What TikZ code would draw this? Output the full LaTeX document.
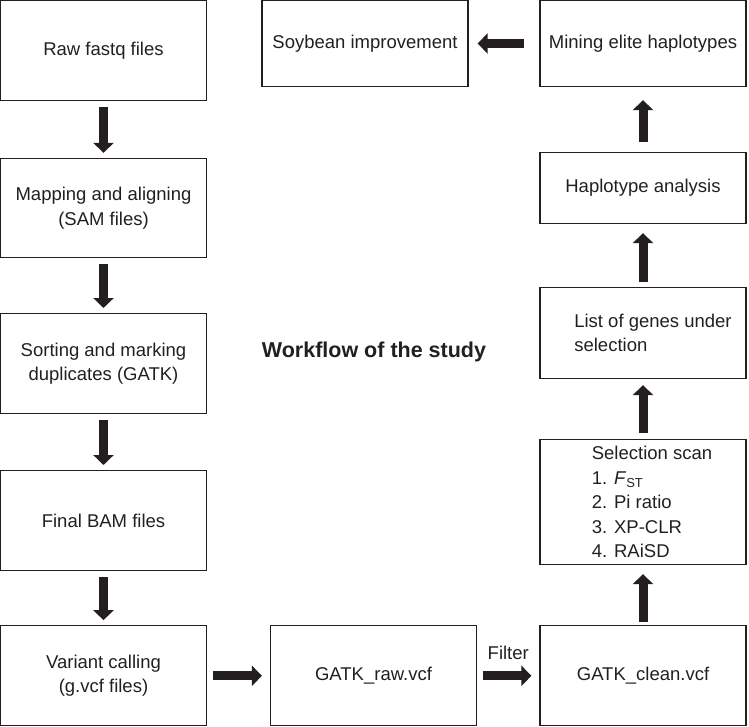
\documentclass[tikz,border=0pt]{standalone}
\usepackage{fontspec}
\setmainfont{Liberation Sans}
\usetikzlibrary{arrows.meta}
\definecolor{ink}{HTML}{231F20}
\tikzset{
	stage/.style={draw=ink, line width=1.3pt, text=ink, minimum width=206pt, inner sep=3pt, align=center, font=\fontsize{18.5}{24.5}\selectfont},
	flow/.style={ink, line width=9pt, -{Triangle[length=10pt, width=20pt]}, shorten <=6pt, shorten >=5pt}
}
\begin{document}
\begin{tikzpicture}[x=1pt, y=-1pt]
			\useasboundingbox (0,0) rectangle (749,727);

			% Left column
			\node[stage, minimum height=99.7pt] (raw) at (103.5,50.5) {Raw fastq files};
			\node[stage, minimum height=99pt] (map) at (103.5,208) {Mapping and aligning\\(SAM files)};
			\node[stage, minimum height=99.7pt] (sort) at (103.5,363.5) {Sorting and marking\\duplicates (GATK)};
			\node[stage, minimum height=99.7pt] (bam) at (103.5,520.5) {Final BAM files};
			\node[stage, minimum height=100pt] (call) at (103.5,675.8) {Variant calling\\(g.vcf files)};

			% Bottom row
			\node[stage, minimum height=100pt] (rawvcf) at (373.5,675.8) {GATK\_raw.vcf};
			\node[stage, minimum height=100pt] (cleanvcf) at (643,675.8) {GATK\_clean.vcf};

			% Right column (text set a little right of centre)
			\node[stage, minimum height=125pt, align=left] (scan) at (643,502) {\hspace*{18pt}Selection scan\\\hspace*{18pt}1. \textit{F}\textsubscript{ST}\\\hspace*{18pt}2. Pi ratio\\\hspace*{18pt}3. XP-CLR\\\hspace*{18pt}4. RAiSD};
			\node[stage, minimum height=91pt, align=left] (genes) at (643,333) {\hspace*{20pt}List of genes under\\\hspace*{20pt}selection};
			\node[stage, minimum height=71pt] (hap) at (643,188) {Haplotype analysis};
			\node[stage, minimum height=86pt] (mining) at (643,43.5) {Mining elite haplotypes};
			\node[stage, minimum height=86pt] (soy) at (365,43.5) {Soybean improvement};

			\node[text=ink, font=\bfseries\fontsize{21.5}{26}\selectfont] (title) at (374,352) {Workflow of the study};

			% Arrows
			\draw[flow] (raw) -- (map);
			\draw[flow] (map) -- (sort);
			\draw[flow] (sort) -- (bam);
			\draw[flow] (bam) -- (call);
			\draw[flow, shorten >=8pt] (call) -- (rawvcf);
			\draw[flow, shorten >=8pt] (rawvcf) -- (cleanvcf)
				node[midway, above=9pt, inner sep=3pt, text=ink, font=\fontsize{18.5}{22}\selectfont] (filter) {Filter};
			\draw[flow, shorten <=3pt, shorten >=9pt] (cleanvcf) -- (scan);
			\draw[flow, shorten <=6pt, shorten >=6pt] (scan) -- (genes);
			\draw[flow, shorten <=5pt, shorten >=9pt] (genes) -- (hap);
			\draw[flow, shorten <=10pt, shorten >=13pt] (hap) -- (mining);
			\draw[flow, shorten <=15pt, shorten >=9pt] (mining) -- (soy);
		\end{tikzpicture}
\end{document}
